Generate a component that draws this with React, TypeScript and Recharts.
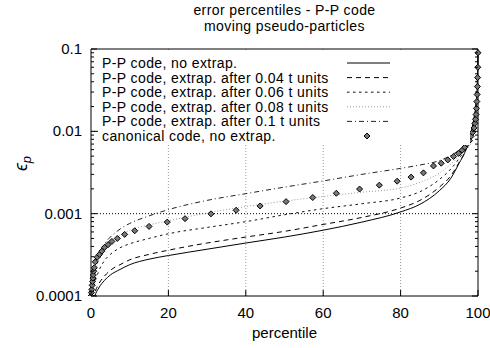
import { ComposedChart, Line, Scatter, XAxis, YAxis, ReferenceLine, Legend } from 'recharts';

// percentile grid shared by the five P-P curves
const percentiles = [0, 0.5, 1, 2, 3.5, 5, 7.5, 10, 15, 20, 30, 40, 50, 60, 70, 80, 85, 90, 93, 95, 97, 98, 99, 99.5, 99.8, 100];

const noExtrap = [6e-5, 8e-5, 1.0e-4, 1.25e-4, 1.55e-4, 1.8e-4, 2.1e-4, 2.4e-4, 2.8e-4, 3.1e-4, 3.7e-4, 4.4e-4, 5.2e-4, 6.3e-4, 7.9e-4, 1.05e-3, 1.3e-3, 1.9e-3, 2.7e-3, 4.0e-3, 6.2e-3, 9.0e-3, 0.015, 0.022, 0.037, 0.085];
const extrap004 = [7e-5, 9e-5, 1.1e-4, 1.4e-4, 1.75e-4, 2.05e-4, 2.4e-4, 2.75e-4, 3.2e-4, 3.6e-4, 4.4e-4, 5.2e-4, 6.1e-4, 7.4e-4, 9.0e-4, 1.17e-3, 1.45e-3, 2.1e-3, 2.9e-3, 4.1e-3, 6.2e-3, 8.8e-3, 0.014, 0.021, 0.036, 0.085];
const extrap006 = [8e-5, 1.1e-4, 1.45e-4, 2.0e-4, 2.7e-4, 3.2e-4, 3.85e-4, 4.3e-4, 5.0e-4, 5.7e-4, 6.8e-4, 8.0e-4, 9.7e-4, 1.15e-3, 1.32e-3, 1.55e-3, 1.85e-3, 2.6e-3, 3.5e-3, 4.6e-3, 6.5e-3, 8.6e-3, 0.013, 0.02, 0.034, 0.085];
const extrap008 = [1.0e-4, 1.5e-4, 1.95e-4, 2.7e-4, 3.8e-4, 4.5e-4, 5.5e-4, 6.3e-4, 7.3e-4, 8.2e-4, 1.02e-3, 1.22e-3, 1.42e-3, 1.62e-3, 1.82e-3, 2.05e-3, 2.4e-3, 3.1e-3, 4.0e-3, 5.0e-3, 6.8e-3, 8.8e-3, 0.013, 0.02, 0.034, 0.085];
const extrap01 = [1.0e-4, 1.7e-4, 2.3e-4, 3.2e-4, 4.3e-4, 5.2e-4, 6.5e-4, 7.6e-4, 9.4e-4, 1.12e-3, 1.45e-3, 1.75e-3, 2.1e-3, 2.5e-3, 3.0e-3, 3.55e-3, 3.9e-3, 4.4e-3, 5.1e-3, 5.9e-3, 7.5e-3, 9.2e-3, 0.014, 0.021, 0.036, 0.09];

const canonicalPct = [0, 0.1, 0.2, 0.3, 0.4, 0.5, 0.6, 0.7, 0.85, 1.1, 1.6, 2.2, 2.8, 3.5, 4.4, 5.4, 6.8, 8.7, 11.3, 15.0, 19.7, 24.3, 31.0, 37.5, 43.7, 50.4, 57.3, 63.4, 69.4, 74.5, 79.1, 82.7, 85.9, 88.5, 90.5, 92.2, 93.7, 95.0, 95.9, 96.6, 97.2, 97.8, 98.2, 98.6, 99.0, 99.2, 99.35, 99.5, 99.6, 99.7, 99.78, 99.85, 99.9, 99.95, 100];
const canonicalErr = [1.0e-4, 1.1e-4, 1.2e-4, 1.35e-4, 1.5e-4, 1.65e-4, 1.8e-4, 2.0e-4, 2.2e-4, 2.6e-4, 2.96e-4, 3.2e-4, 3.5e-4, 3.9e-4, 4.2e-4, 4.6e-4, 5.0e-4, 5.6e-4, 6.2e-4, 7.0e-4, 7.9e-4, 8.7e-4, 9.95e-4, 1.1e-3, 1.24e-3, 1.4e-3, 1.57e-3, 1.77e-3, 1.99e-3, 2.22e-3, 2.48e-3, 2.78e-3, 3.13e-3, 3.8e-3, 4.1e-3, 4.5e-3, 4.95e-3, 5.4e-3, 5.9e-3, 6.4e-3, 7.0e-3, 7.7e-3, 8.7e-3, 9.7e-3, 0.011, 0.0125, 0.014, 0.016, 0.019, 0.023, 0.028, 0.035, 0.045, 0.06, 0.09];

const xTicks = [0, 20, 40, 60, 80, 100];
const yMajor = [0.0001, 0.001, 0.01, 0.1];
const yMinor = [0.0002, 0.0003, 0.0004, 0.0005, 0.0006, 0.0007, 0.0008, 0.0009, 0.002, 0.003, 0.004, 0.005, 0.006, 0.007, 0.008, 0.009, 0.02, 0.03, 0.04, 0.05, 0.06, 0.07, 0.08, 0.09];
const gridX = [20, 40, 60, 80];
const gridY = [0.001, 0.01];

const FONT = '"Liberation Sans", Arial, sans-serif';

const series = [
  { name: 'P-P code, no extrap.', values: noExtrap, stroke: '#000', dash: undefined },
  { name: 'P-P code, extrap. after 0.04 t units', values: extrap004, stroke: '#000', dash: '5 4' },
  { name: 'P-P code, extrap. after 0.06 t units', values: extrap006, stroke: '#111', dash: '2.5 3.5' },
  { name: 'P-P code, extrap. after 0.08 t units', values: extrap008, stroke: '#999', dash: '1 2' },
  { name: 'P-P code, extrap. after 0.1 t units', values: extrap01, stroke: '#222', dash: '5 3 1 3' },
];
const canonicalName = 'canonical code, no extrap.';

const lineData = series.map((s) => percentiles.map((p, i) => ({ x: p, y: s.values[i] })));
const canonicalData = canonicalPct.map((p, i) => ({ x: p, y: canonicalErr[i] }));

const Diamond = ({ cx, cy }: any) => (
  <polygon
    points={`${cx},${cy - 3} ${cx + 3},${cy} ${cx},${cy + 3} ${cx - 3},${cy}`}
    fill="#777"
    stroke="#000"
    strokeWidth={1}
  />
);

const LeftTick = ({ x, y, payload }: any) => {
  const major = yMajor.includes(payload.value);
  return (
    <g>
      <line x1={x} x2={x + (major ? 6 : 3)} y1={y} y2={y} stroke="#000" />
      {major && (
        <text x={x - 9} y={y + 5} textAnchor="end" fontSize={15} fontFamily={FONT} fill="#000">
          {String(payload.value)}
        </text>
      )}
    </g>
  );
};

const RightTick = ({ x, y, payload }: any) => {
  const major = yMajor.includes(payload.value);
  return <line x1={x} x2={x - (major ? 6 : 3)} y1={y} y2={y} stroke="#000" />;
};

const BottomTick = ({ x, y, payload }: any) => (
  <g>
    <line x1={x} x2={x} y1={y} y2={y - 6} stroke="#000" />
    <text x={x} y={y + 22} textAnchor="middle" fontSize={15} fontFamily={FONT} fill="#000">
      {payload.value}
    </text>
  </g>
);

const TopTick = ({ x, y }: any) => <line x1={x} x2={x} y1={y} y2={y + 6} stroke="#000" />;

const ROW = 14.6;
const renderLegend = () => (
  <svg width={372} height={95} style={{ display: 'block' }}>
    {series.map((s, i) => (
      <g key={s.name}>
        <text x={4} y={13 + ROW * i + 5} fontSize={14} letterSpacing={0.4} fontFamily={FONT} fill="#000">{s.name}</text>
        <line x1={249} x2={292} y1={13 + ROW * i} y2={13 + ROW * i} stroke={s.stroke} strokeDasharray={s.dash} />
      </g>
    ))}
    <text x={4} y={13 + ROW * 5 + 5} fontSize={14} letterSpacing={0.4} fontFamily={FONT} fill="#000">{canonicalName}</text>
    <Diamond cx={269} cy={13 + ROW * 5} />
  </svg>
);

const YLabel = ({ viewBox }: any) => {
  const cx = viewBox.x - 9;
  const cy = viewBox.y + viewBox.height / 2 - 9;
  return (
    <text transform={`rotate(-90, ${cx}, ${cy})`} x={cx} y={cy + 5} textAnchor="middle" fontFamily={FONT} fill="#000">
      <tspan fontSize={18} fontStyle="italic">ϵ</tspan>
      <tspan fontSize={13} fontStyle="italic" dy={4}>p</tspan>
    </text>
  );
};

const XLabel = ({ viewBox }: any) => (
  <text x={viewBox.x + viewBox.width / 2} y={viewBox.y + 42} textAnchor="middle" fontSize={15} fontFamily={FONT} fill="#000">
    percentile
  </text>
);

export default function App() {
  return (
    <div style={{ position: 'relative', width: 490, height: 348, background: '#fff', fontFamily: FONT }}>
      <style>{'body{margin:0}'}</style>
      <div style={{ position: 'absolute', left: 91, width: 387, top: 2, textAlign: 'center', fontSize: 14, letterSpacing: 0.4, lineHeight: '16px', color: '#000' }}>
        <div>error percentiles - P-P code</div>
        <div>moving pseudo-particles</div>
      </div>
      <ComposedChart width={490} height={348} margin={{ top: 39, right: 0, bottom: 22, left: 31 }}>
        <XAxis
          type="number"
          dataKey="x"
          domain={[0, 100]}
          ticks={xTicks}
          interval={0}
          tickSize={0}
          tickMargin={0}
          tickLine={false}
          tick={BottomTick}
          height={30}
          axisLine={{ stroke: '#000' }}
          label={<XLabel />}
        />
        <XAxis
          xAxisId="top"
          orientation="top"
          type="number"
          dataKey="x"
          domain={[0, 100]}
          ticks={xTicks}
          interval={0}
          tickSize={0}
          tickMargin={0}
          tickLine={false}
          tick={TopTick}
          height={10}
          axisLine={{ stroke: '#000' }}
        />
        <YAxis
          scale="log"
          domain={[0.0001, 0.1]}
          allowDataOverflow
          ticks={[...yMajor, ...yMinor]}
          interval={0}
          tickSize={0}
          tickMargin={0}
          tickLine={false}
          tick={LeftTick}
          width={60}
          axisLine={{ stroke: '#000' }}
          label={<YLabel />}
        />
        <YAxis
          yAxisId="right"
          orientation="right"
          scale="log"
          domain={[0.0001, 0.1]}
          allowDataOverflow
          ticks={[...yMajor, ...yMinor]}
          interval={0}
          tickSize={0}
          tickMargin={0}
          tickLine={false}
          tick={RightTick}
          width={12}
          axisLine={{ stroke: '#000' }}
        />
        {gridX.map((v) => (
          <ReferenceLine key={`gx${v}`} x={v} stroke="#999" strokeDasharray="1 2" />
        ))}
        {gridY.map((v) => (
          <ReferenceLine key={`gy${v}`} y={v} stroke="#000" strokeDasharray="1 2" />
        ))}
        {series.map((s, i) => (
          <Line
            key={s.name}
            data={lineData[i]}
            dataKey="y"
            name={s.name}
            type="monotone"
            stroke={s.stroke}
            strokeWidth={1}
            strokeDasharray={s.dash}
            dot={false}
            isAnimationActive={false}
          />
        ))}
        <Scatter data={canonicalData} dataKey="y" name={canonicalName} shape={Diamond} isAnimationActive={false} />
        <Legend
          layout="vertical"
          align="center"
          verticalAlign="middle"
          wrapperStyle={{ left: 98, top: 50, width: 372, height: 95, background: '#fff' }}
          content={renderLegend}
        />
      </ComposedChart>
    </div>
  );
}
